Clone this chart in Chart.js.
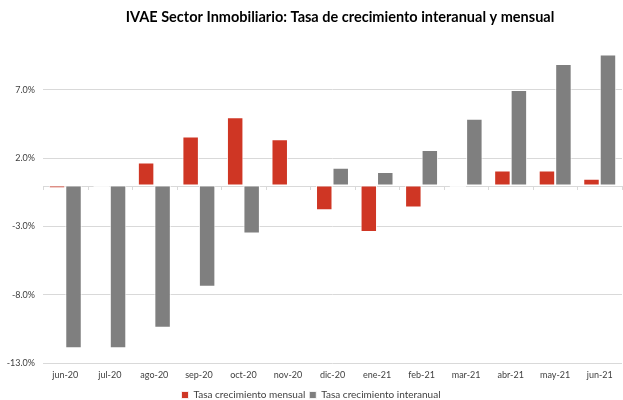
<!DOCTYPE html>
<html>
<head>
<meta charset="utf-8">
<script src="https://cdn.jsdelivr.net/npm/chart.js@4.4.0/dist/chart.umd.min.js"></script>
<style>
  html, body { margin: 0; padding: 0; background: #fff; }
  #wrap { width: 623px; height: 400px; }
</style>
</head>
<body>
<div id="wrap"><canvas id="graficaIvae" width="623" height="400"></canvas></div>
<script>
// Datos
var meses = ['jun-20', 'jul-20', 'ago-20', 'sep-20', 'oct-20', 'nov-20', 'dic-20',
             'ene-21', 'feb-21', 'mar-21', 'abr-21', 'may-21', 'jun-21'];
var tasaMensual = [-0.2, -0.1, 1.7, 3.6, 5.0, 3.4, -1.8, -3.4, -1.6, -0.1, 1.1, 1.1, 0.5];
var tasaInteranual = [-11.9, -11.9, -10.4, -7.4, -3.5, 0.0, 1.3, 1.0, 2.6, 4.9, 7.0, 8.9, 9.6];
var marcasY = [-13, -8, -3, 2, 7];
var titulo = 'IVAE Sector Inmobiliario: Tasa de crecimiento interanual y mensual';

var ctx = document.getElementById('graficaIvae').getContext('2d');
var grafica = new Chart(ctx, {
    type: 'bar',
    data: {
        labels: meses,
        datasets: [{
            label: 'Tasa crecimiento mensual',
            data: tasaMensual,
            backgroundColor: '#CF3624',
            borderColor: 'rgba(255,255,255,0.8)',
            borderWidth: 1,
            borderSkipped: false
        }, {
            label: 'Tasa crecimiento interanual',
            data: tasaInteranual,
            backgroundColor: '#7F7F7F',
            borderColor: 'rgba(255,255,255,0.8)',
            borderWidth: 1,
            borderSkipped: false
        }]
    },
    options: {
        responsive: false,
        animation: false,
        layout: { padding: { left: 0, right: 1, top: 49, bottom: -10 } },
        datasets: {
            bar: { categoryPercentage: 0.74, barPercentage: 1.0 }
        },
        plugins: {
            legend: {
                position: 'bottom',
                labels: {
                    boxWidth: 7,
                    boxHeight: 7,
                    color: '#404040',
                    font: { family: 'Lato', size: 10 },
                    padding: 4
                }
            },
            tooltip: { enabled: false }
        },
        scales: {
            x: {
                grid: { display: false, drawTicks: false },
                border: { display: false },
                ticks: { color: '#404040', font: { family: 'Lato', size: 9 }, maxRotation: 0, padding: 6 }
            },
            y: {
                min: -13,
                max: 10,
                afterBuildTicks: function (eje) {
                    eje.ticks = marcasY.map(function (v) { return { value: v }; });
                },
                afterFit: function (eje) { eje.width = 43; },
                grid: {
                    color: '#D9D9D9',
                    drawTicks: false
                },
                border: { display: false },
                ticks: {
                    color: '#404040',
                    font: { family: 'Lato', size: 9 },
                    padding: 8,
                    callback: function (v) { return v.toFixed(1) + '%'; }
                }
            }
        }
    },
    plugins: [{
        id: 'lineaCero',
        beforeDatasetsDraw: function (chart) {
            var y = chart.scales.y.getPixelForValue(0);
            var area = chart.chartArea;
            var c = chart.ctx;
            c.save();
            c.strokeStyle = '#D9D9D9';
            c.lineWidth = 1;
            c.beginPath();
            c.moveTo(area.left, Math.round(y) + 0.5);
            c.lineTo(area.right, Math.round(y) + 0.5);
            var paso = (area.right - area.left) / meses.length;
            for (var i = 0; i <= meses.length; i++) {
                var x = Math.round(area.left + i * paso) + 0.5;
                c.moveTo(x, Math.round(y));
                c.lineTo(x, Math.round(y) + 4);
            }
            c.stroke();
            c.restore();
        }
    }, {
        id: 'tituloGrafica',
        afterDraw: function (chart) {
            var c = chart.ctx;
            c.save();
            c.font = 'bold 14.5px Lato';
            c.fillStyle = '#000';
            c.textAlign = 'center';
            c.textBaseline = 'middle';
            c.fillText(titulo, 340, 17);
            c.restore();
        }
    }]
});
</script>
</body>
</html>
